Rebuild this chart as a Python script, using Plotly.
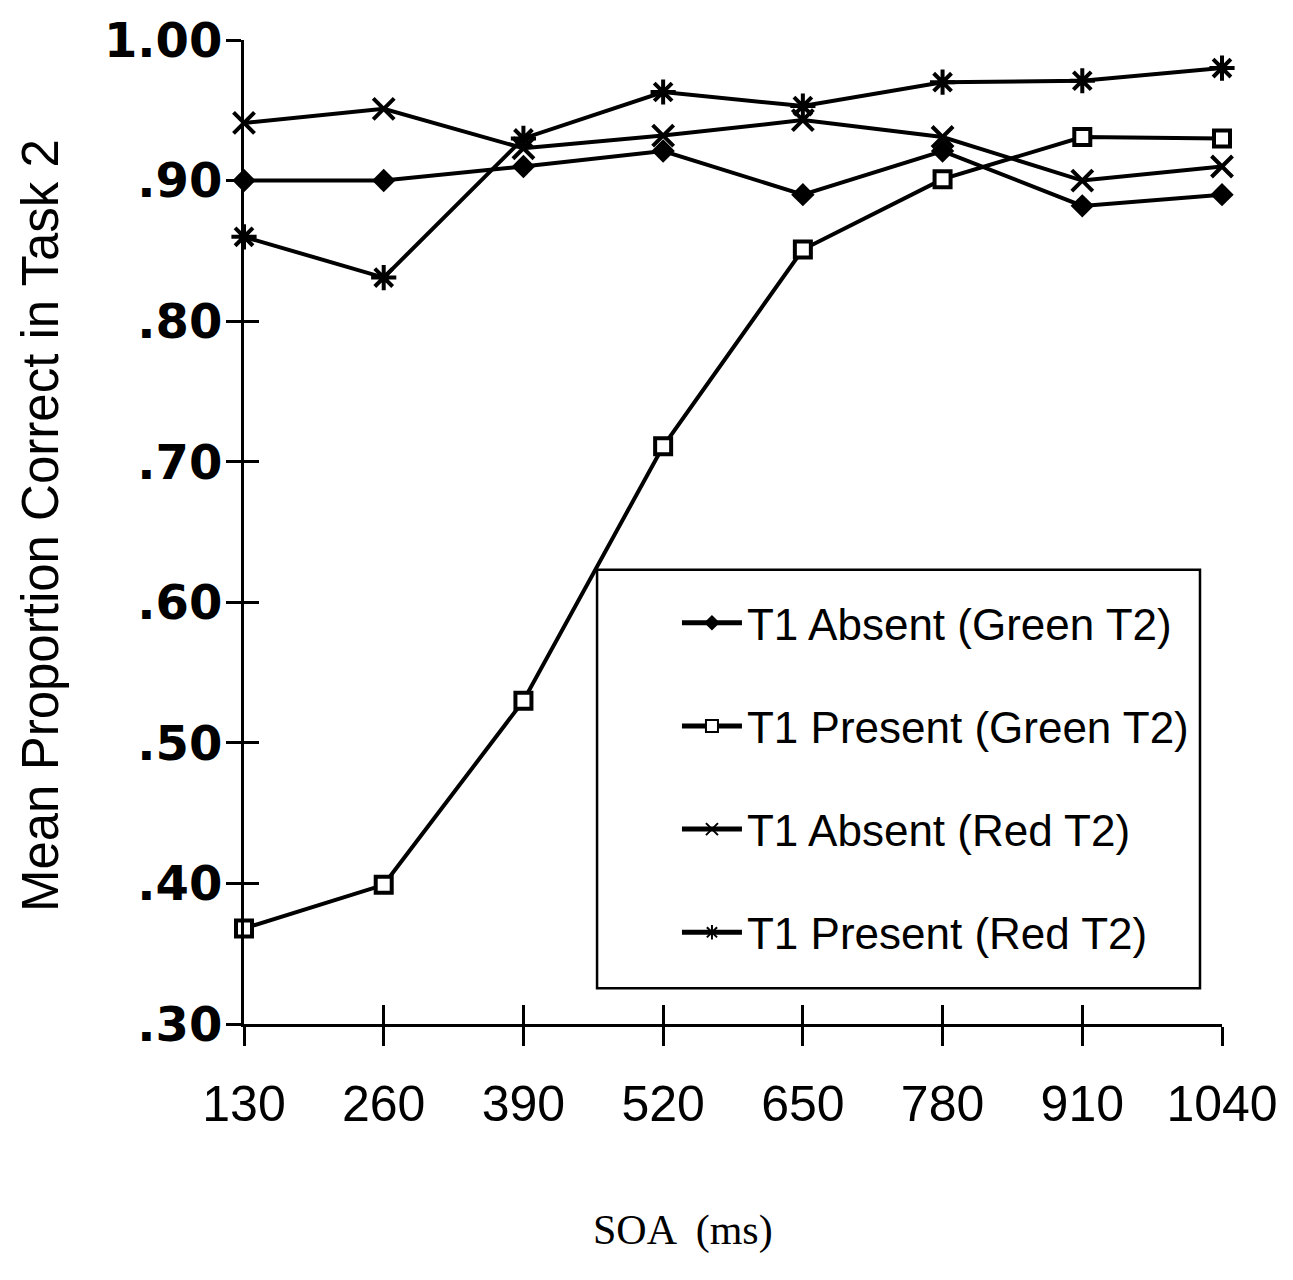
import plotly.graph_objects as go

# SOA conditions (ms)
soa = [130, 260, 390, 520, 650, 780, 910, 1040]

# Mean proportion correct in Task 2 per condition
absent_green = [0.900, 0.900, 0.910, 0.921, 0.890, 0.921, 0.882, 0.890]
present_green = [0.368, 0.399, 0.530, 0.711, 0.851, 0.901, 0.931, 0.930]
absent_red = [0.941, 0.951, 0.923, 0.932, 0.943, 0.931, 0.900, 0.910]
present_red = [0.860, 0.831, 0.930, 0.963, 0.953, 0.970, 0.971, 0.980]

y_ticks = [0.30, 0.40, 0.50, 0.60, 0.70, 0.80, 0.90, 1.00]
y_tick_labels = [".30", ".40", ".50", ".60", ".70", ".80", ".90", "1.00"]

# (name, values, marker style, axis pair) - the two axis pairs overlay each other so
# the tick marks can cross the axis lines (outside ticks on one, inside on the other)
series = [
    ("T1 Absent (Green T2)", absent_green,
     dict(symbol="diamond", size=18, color="black", line=dict(width=0)), ("x", "y")),
    ("T1 Present (Green T2)", present_green,
     dict(symbol="square", size=16, color="white", line=dict(width=4, color="black")), ("x", "y")),
    ("T1 Absent (Red T2)", absent_red,
     dict(symbol="x-thin-open", size=21, color="black", line=dict(width=4, color="black")), ("x2", "y2")),
    ("T1 Present (Red T2)", present_red,
     dict(symbol="asterisk-open", size=21, color="black", line=dict(width=4, color="black")), ("x2", "y2")),
]

fig = go.Figure()
for i, (name, vals, marker, (xa, ya)) in enumerate(series):
    fig.add_trace(go.Scatter(
        x=soa, y=vals, name=name, mode="lines+markers",
        line=dict(color="black", width=4),
        marker=marker, cliponaxis=False,
        legendgroup=f"g{i}", xaxis=xa, yaxis=ya,
    ))

axis_common = dict(showgrid=False, zeroline=False)

fig.update_layout(
    width=1293, height=1280,
    paper_bgcolor="white", plot_bgcolor="white",
    margin=dict(l=244, r=71, t=34, b=256),
    showlegend=True,
    legend=dict(
        x=0.4427, y=0.4435, xanchor="left", yanchor="top",
        bgcolor="rgba(0,0,0,0)", borderwidth=0,
        font=dict(family="Liberation Sans, Arial", size=44, color="black"),
        itemsizing="constant", itemwidth=60, tracegroupgap=43, traceorder="grouped",
    ),
    xaxis=dict(
        range=[130, 1040], tickvals=soa, ticktext=[str(v) for v in soa],
        ticks="outside", ticklen=19, tickwidth=3, tickcolor="black",
        showline=True, linewidth=3, linecolor="black",
        tickfont=dict(family="Liberation Sans, Arial", size=50, color="black"),
        ticklabelstandoff=15, anchor="y", **axis_common,
    ),
    xaxis2=dict(
        range=[130, 1040], tickvals=soa, overlaying="x", anchor="y2", side="bottom",
        ticks="inside", ticklen=19, tickwidth=3, tickcolor="black",
        showticklabels=False, showline=False, **axis_common,
    ),
    yaxis=dict(
        range=[0.30, 1.00], tickvals=y_ticks, ticktext=y_tick_labels,
        ticks="outside", ticklen=15, tickwidth=3, tickcolor="black",
        showline=True, linewidth=3, linecolor="black",
        tickfont=dict(family="DejaVu Sans", size=48, color="black", weight="bold"),
        ticklabelstandoff=-6, anchor="x", **axis_common,
    ),
    yaxis2=dict(
        range=[0.30, 1.00], tickvals=y_ticks, overlaying="y", anchor="x2", side="left",
        ticks="inside", ticklen=15, tickwidth=3, tickcolor="black",
        showticklabels=False, showline=False, **axis_common,
    ),
    shapes=[dict(
        type="rect", xref="paper", yref="paper",
        x0=0.361, x1=0.9775, y0=0.0364, y1=0.4616,
        line=dict(color="black", width=2.5), fillcolor="rgba(0,0,0,0)", layer="below",
    )],
    annotations=[
        dict(text="Mean Proportion Correct in Task 2", textangle=-90,
             xref="paper", yref="paper", x=-0.2086, y=0.507,
             xanchor="center", yanchor="middle", showarrow=False,
             font=dict(family="Liberation Sans, Arial", size=51, color="black")),
        dict(text="SOA  (ms)", xref="paper", yref="paper", x=0.449, y=-0.21,
             xanchor="center", yanchor="middle", showarrow=False,
             font=dict(family="Liberation Serif, Times New Roman", size=42, color="black")),
    ],
)

fig.write_html("out.html")
